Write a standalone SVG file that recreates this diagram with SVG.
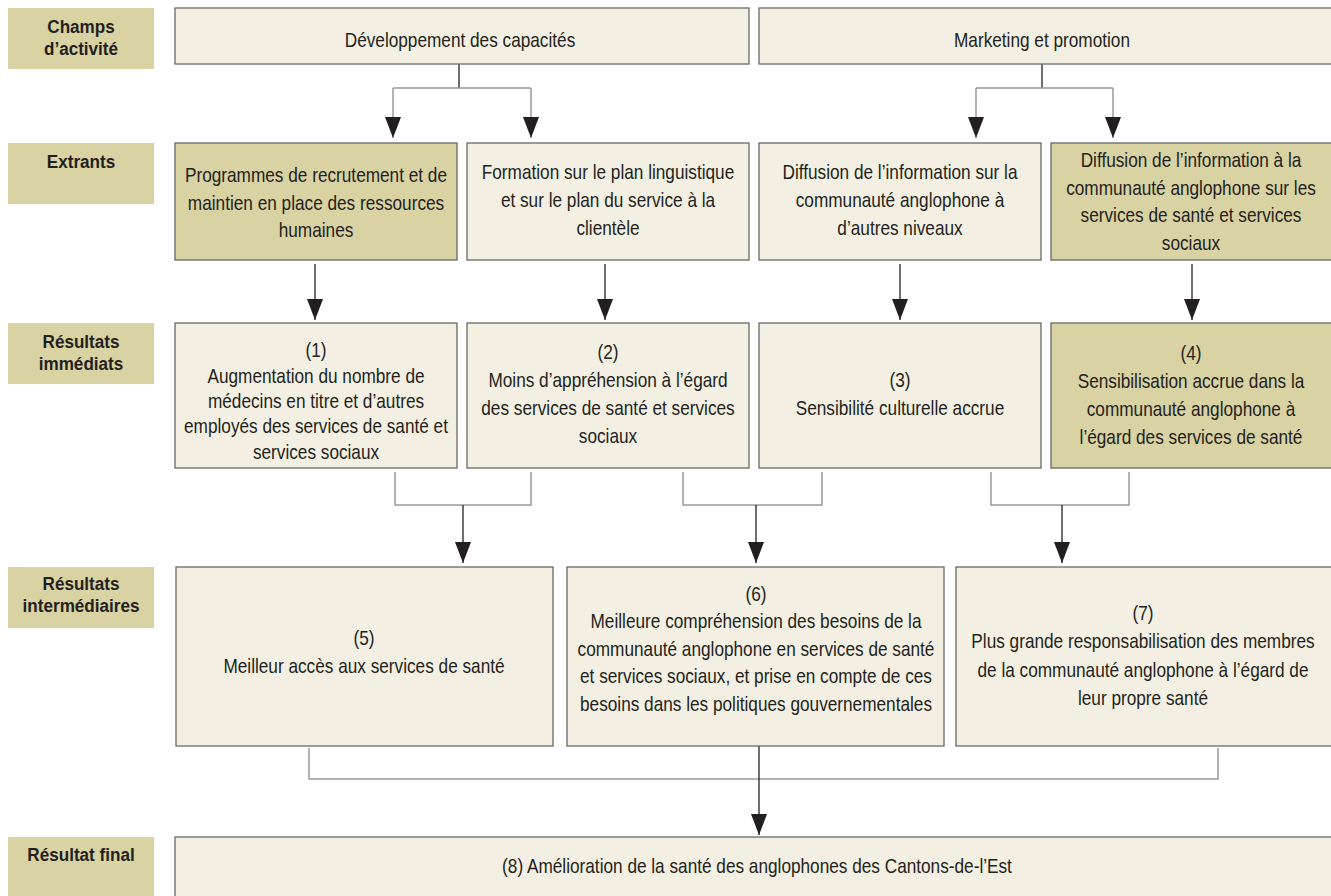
<svg xmlns="http://www.w3.org/2000/svg" width="1331" height="896" viewBox="0 0 1331 896">
<style>
.lab{fill:#D9D2A3;}
.box{fill:#F3F0E3;stroke:#6B6862;stroke-width:1.3;}
.dk{fill:#D9D2A3;stroke:#6B6862;stroke-width:1.3;}
.t{font-family:"Liberation Sans",Arial,sans-serif;font-size:21px;fill:#231F20;text-anchor:middle;}
.lt{font-family:"Liberation Sans",Arial,sans-serif;font-size:19px;font-weight:bold;fill:#231F20;text-anchor:middle;}
.g{fill:none;stroke:#9A9A9A;stroke-width:1.5;}
.d{fill:none;stroke:#231F20;stroke-width:1.3;}
</style>
<defs>
<marker id="ah" viewBox="0 0 21 16" refX="21" refY="8" markerWidth="21" markerHeight="16" markerUnits="userSpaceOnUse" orient="auto">
<path d="M0,0 L21,8 L0,16 z" fill="#231F20"/>
</marker>
</defs>
<rect width="1331" height="896" fill="#FFFFFF"/>

<g id="labels">
<rect class="lab" x="8" y="8" width="146" height="61"/>
<text class="lt" transform="translate(81 0) scale(0.9 1)"><tspan x="0" y="33">Champs</tspan><tspan x="0" y="55">d’activité</tspan></text>
<rect class="lab" x="8" y="143" width="146" height="61"/>
<text class="lt" transform="translate(81 0) scale(0.9 1)"><tspan x="0" y="168">Extrants</tspan></text>
<rect class="lab" x="8" y="323" width="146" height="61"/>
<text class="lt" transform="translate(81 0) scale(0.9 1)"><tspan x="0" y="348">Résultats</tspan><tspan x="0" y="370">immédiats</tspan></text>
<rect class="lab" x="8" y="567" width="146" height="61"/>
<text class="lt" transform="translate(81 0) scale(0.9 1)"><tspan x="0" y="590">Résultats</tspan><tspan x="0" y="612">intermédiaires</tspan></text>
<rect class="lab" x="8" y="837" width="146" height="61"/>
<text class="lt" transform="translate(81 0) scale(0.9 1)"><tspan x="0" y="861">Résultat final</tspan></text>
</g>

<g id="connectors">
<path class="d" d="M459,64 V88"/>
<path class="g" d="M393,88 H531"/>
<path class="g" d="M393,88 V138" marker-end="url(#ah)"/>
<path class="g" d="M531,88 V138" marker-end="url(#ah)"/>
<path class="d" d="M1042,64 V88"/>
<path class="g" d="M976,88 H1113"/>
<path class="g" d="M976,88 V138" marker-end="url(#ah)"/>
<path class="g" d="M1113,88 V138" marker-end="url(#ah)"/>
<path class="d" d="M315,264 V320" marker-end="url(#ah)"/>
<path class="d" d="M605,264 V320" marker-end="url(#ah)"/>
<path class="d" d="M900,264 V320" marker-end="url(#ah)"/>
<path class="d" d="M1192,264 V320" marker-end="url(#ah)"/>
<path class="g" d="M395,472 V505 H531 V472"/>
<path class="g" d="M683,472 V505 H822 V472"/>
<path class="g" d="M991,472 V505 H1129 V472"/>
<path class="d" d="M463,505 V563" marker-end="url(#ah)"/>
<path class="d" d="M756,505 V563" marker-end="url(#ah)"/>
<path class="d" d="M1062,505 V563" marker-end="url(#ah)"/>
<path class="g" d="M309,748 V779 H1218 V748"/>
<path class="d" d="M759,746 V835" marker-end="url(#ah)"/>
</g>

<g id="dev">
<rect class="box" x="175" y="8" width="574" height="56"/>
<text class="t" transform="translate(460 0) scale(0.82 1)"><tspan x="0" y="47">Développement des capacités</tspan></text>
</g>
<g id="marketing">
<rect class="box" x="759" y="8" width="600" height="56"/>
<text class="t" transform="translate(1042 0) scale(0.82 1)"><tspan x="0" y="47">Marketing et promotion</tspan></text>
</g>

<g id="ext1">
<rect class="dk" x="175" y="143" width="282" height="117"/>
<text class="t" transform="translate(316 0) scale(0.82 1)"><tspan x="0" y="182">Programmes de recrutement et de</tspan><tspan x="0" y="210">maintien en place des ressources</tspan><tspan x="0" y="237">humaines</tspan></text>
</g>
<g id="ext2">
<rect class="box" x="467" y="143" width="282" height="117"/>
<text class="t" transform="translate(608 0) scale(0.82 1)"><tspan x="0" y="179">Formation sur le plan linguistique</tspan><tspan x="0" y="207">et sur le plan du service à la</tspan><tspan x="0" y="235">clientèle</tspan></text>
</g>
<g id="ext3">
<rect class="box" x="759" y="143" width="282" height="117"/>
<text class="t" transform="translate(900 0) scale(0.82 1)"><tspan x="0" y="179">Diffusion de l’information sur la</tspan><tspan x="0" y="207">communauté anglophone à</tspan><tspan x="0" y="235">d’autres niveaux</tspan></text>
</g>
<g id="ext4">
<rect class="dk" x="1051" y="143" width="300" height="117"/>
<text class="t" transform="translate(1191 0) scale(0.82 1)"><tspan x="0" y="167">Diffusion de l’information à la</tspan><tspan x="0" y="195">communauté anglophone sur les</tspan><tspan x="0" y="222">services de santé et services</tspan><tspan x="0" y="250">sociaux</tspan></text>
</g>

<g id="r1">
<rect class="box" x="175" y="323" width="282" height="145"/>
<text class="t" transform="translate(316 0) scale(0.82 1)"><tspan x="0" y="357">(1)</tspan><tspan x="0" y="383">Augmentation du nombre de</tspan><tspan x="0" y="408">médecins en titre et d’autres</tspan><tspan x="0" y="433">employés des services de santé et</tspan><tspan x="0" y="459">services sociaux</tspan></text>
</g>
<g id="r2">
<rect class="box" x="467" y="323" width="282" height="145"/>
<text class="t" transform="translate(608 0) scale(0.82 1)"><tspan x="0" y="359">(2)</tspan><tspan x="0" y="387">Moins d’appréhension à l’égard</tspan><tspan x="0" y="415">des services de santé et services</tspan><tspan x="0" y="443">sociaux</tspan></text>
</g>
<g id="r3">
<rect class="box" x="759" y="323" width="282" height="145"/>
<text class="t" transform="translate(900 0) scale(0.82 1)"><tspan x="0" y="387">(3)</tspan><tspan x="0" y="415">Sensibilité culturelle accrue</tspan></text>
</g>
<g id="r4">
<rect class="dk" x="1051" y="323" width="300" height="145"/>
<text class="t" transform="translate(1191 0) scale(0.82 1)"><tspan x="0" y="360">(4)</tspan><tspan x="0" y="388">Sensibilisation accrue dans la</tspan><tspan x="0" y="416">communauté anglophone à</tspan><tspan x="0" y="444">l’égard des services de santé</tspan></text>
</g>

<g id="r5">
<rect class="box" x="176" y="567" width="377" height="179"/>
<text class="t" transform="translate(364 0) scale(0.82 1)"><tspan x="0" y="645">(5)</tspan><tspan x="0" y="673">Meilleur accès aux services de santé</tspan></text>
</g>
<g id="r6">
<rect class="box" x="567" y="567" width="377" height="179"/>
<text class="t" transform="translate(756 0) scale(0.82 1)"><tspan x="0" y="601">(6)</tspan><tspan x="0" y="628">Meilleure compréhension des besoins de la</tspan><tspan x="0" y="656">communauté anglophone en services de santé</tspan><tspan x="0" y="683">et services sociaux, et prise en compte de ces</tspan><tspan x="0" y="711">besoins dans les politiques gouvernementales</tspan></text>
</g>
<g id="r7">
<rect class="box" x="956" y="567" width="390" height="179"/>
<text class="t" transform="translate(1143 0) scale(0.82 1)"><tspan x="0" y="620">(7)</tspan><tspan x="0" y="648">Plus grande responsabilisation des membres</tspan><tspan x="0" y="677">de la communauté anglophone à l’égard de</tspan><tspan x="0" y="705">leur propre santé</tspan></text>
</g>

<g id="final">
<rect class="box" x="175" y="837" width="1170" height="70"/>
<text class="t" transform="translate(757 0) scale(0.82 1)"><tspan x="0" y="873">(8) Amélioration de la santé des anglophones des Cantons-de-l’Est</tspan></text>
</g>
</svg>
